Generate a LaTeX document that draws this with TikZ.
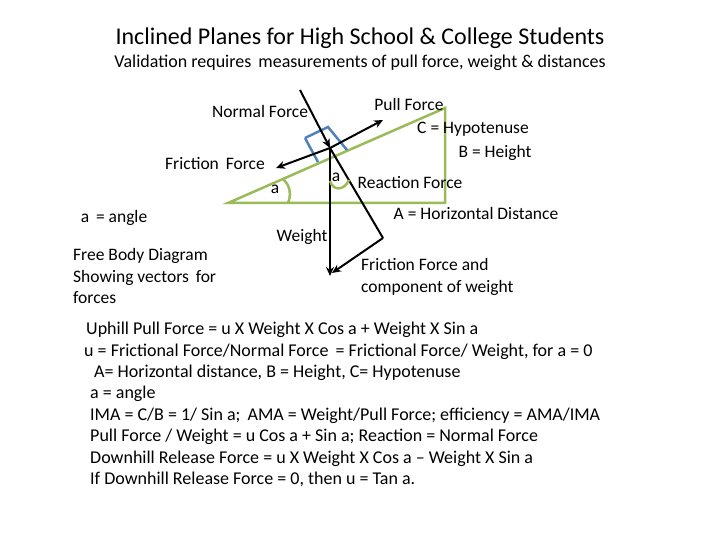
\documentclass[tikz,border=0pt]{standalone}
\usepackage{fontspec}
\setmainfont{Carlito}
\usetikzlibrary{arrows.meta}
\begin{document}
\begin{tikzpicture}[x=1pt,y=-1pt,
  lbl/.style={inner sep=0pt,font=\fontsize{17.5}{21.5}\selectfont},
  vec/.style={line width=2pt,-{Stealth[length=9pt,width=8pt]}},
  plain/.style={line width=2pt},
  incl/.style={draw={rgb,255:red,155;green,187;blue,89},line width=2.5pt},
  box/.style={draw={rgb,255:red,79;green,129;blue,189},line width=2.5pt}]
\useasboundingbox (0,0) rectangle (720,540);
\node[lbl,font=\fontsize{24}{28}\selectfont] (title) at (360,38) {Inclined Planes for High School \& College Students};
\node[lbl,font=\fontsize{18}{22}\selectfont] (sub) at (360,63) {Validation requires\, measurements of pull force, weight \& distances};
% incline
\coordinate (L) at (228,203); \coordinate (R) at (445,203); \coordinate (T) at (445,108);
\draw[incl] (L) -- (R) -- (T) -- cycle;
\draw[incl] (283,179) .. controls (291,186) and (291,196) .. (288,203);
% box
\draw[box] (305,138) -- (328,127) -- (347,150);
\draw[box] (305,138) -- (318,162);
% vectors
\coordinate (O) at (330,148);
\coordinate (NT) at (300,90);
\coordinate (K) at (383,238);
\draw[vec] (NT) -- (O);
\draw[vec] (O) -- (383,120);
\draw[vec] (O) -- (276,168);
\draw[vec] (O) -- (330,276);
\draw[plain] (O) -- (K);
\draw[vec] (K) -- (332,273);
\draw[incl] (330,181) .. controls (333,191) and (344,191) .. (349,180);
% labels
\node[lbl] (nf) at (260,111) {Normal Force};
\node[lbl] (pf) at (409,104) {Pull Force};
\node[lbl] (hyp) at (473,129) {C = Hypotenuse};
\node[lbl] (bh) at (495,153) {B = Height};
\node[lbl] (ff) at (215,164) {Friction\, Force};
\node[lbl] (a1) at (275,189) {a};
\node[lbl] (a2) at (336,177) {a};
\node[lbl] (rf) at (410,183) {Reaction Force};
\node[lbl] (ah) at (476,213) {A = Horizontal Distance};
\node[lbl] (ang) at (114,218) {a\, = angle};
\node[lbl] (w) at (302,237) {Weight};
\node[lbl,align=left,anchor=west] (fbd) at (73,276) {Free Body Diagram\\Showing vectors\, for\\forces};
\node[lbl,align=left,anchor=west] (ffc) at (361,277) {Friction Force and\\component of weight};
\node[lbl,align=left,anchor=north west,font=\fontsize{18}{21.4}\selectfont] (body) at (84,322) {%
\hspace*{2pt}Uphill Pull Force = u X Weight X Cos a + Weight X Sin a\\
u = Frictional Force/Normal Force\, = Frictional Force/ Weight, for a = 0\\
\hspace*{10pt}A= Horizontal distance, B = Height, C= Hypotenuse\\
\hspace*{6pt}a = angle\\
\hspace*{6pt}IMA = C/B = 1/ Sin a;\, AMA = Weight/Pull Force; efficiency = AMA/IMA\\
\hspace*{6pt}Pull Force / Weight = u Cos a + Sin a; Reaction = Normal Force\\
\hspace*{6pt}Downhill Release Force = u X Weight X Cos a -- Weight X Sin a\\
\hspace*{6pt}If Downhill Release Force = 0, then u = Tan a.};
\end{tikzpicture}
\end{document}
